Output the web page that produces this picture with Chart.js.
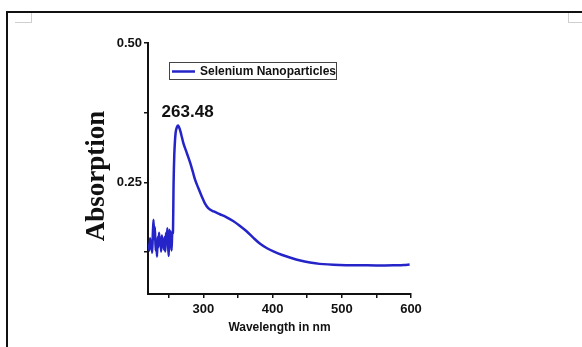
<!DOCTYPE html>
<html>
<head>
<meta charset="utf-8">
<script src="https://cdn.jsdelivr.net/npm/chart.js@4"></script>
<style>
html,body{margin:0;padding:0;background:#fff;width:582px;height:347px;overflow:hidden;}
.f{position:absolute;}
#c{position:absolute;left:0;top:0;z-index:2;}
</style>
</head>
<body>
<div class="f" style="left:6px;top:11px;width:2px;height:336px;background:#111;"></div>
<div class="f" style="left:6px;top:11px;width:576px;height:2px;background:#111;"></div>
<div class="f" style="left:15px;top:22px;width:17px;height:1px;background:#cfcfcf;"></div>
<div class="f" style="left:31px;top:13px;width:1px;height:10px;background:#cfcfcf;"></div>
<div class="f" style="left:568px;top:13px;width:1px;height:10px;background:#cfcfcf;"></div>
<div class="f" style="left:568px;top:22px;width:14px;height:1px;background:#cfcfcf;"></div>
<canvas id="c" width="582" height="347"></canvas>
<script>
// ---- data ----
const wavelength = [221,222,223,224,225,226,227,228,229,230,231,232,233,234,235,236,237,238,239,240,241,242,243,244,245,246,247,248,249,250,251,252,253,254,255,256,257,258,259,260,262,263.48,266,268,271,276,281,285,288,293,298,302,307,315,324,333,343,352,362,372,382,392,402,414,426,440,454,468,497,530,550,575,590,598];
const absorption = [0.140,0.128,0.150,0.132,0.146,0.124,0.158,0.183,0.148,0.170,0.128,0.146,0.117,0.152,0.134,0.160,0.138,0.150,0.126,0.155,0.138,0.148,0.130,0.152,0.126,0.160,0.142,0.168,0.138,0.118,0.165,0.134,0.162,0.128,0.158,0.160,0.250,0.300,0.325,0.340,0.350,0.352,0.345,0.336,0.321,0.303,0.285,0.268,0.255,0.239,0.224,0.213,0.204,0.198,0.193,0.188,0.181,0.173,0.163,0.151,0.140,0.132,0.126,0.120,0.115,0.110,0.1065,0.104,0.102,0.1015,0.1012,0.1015,0.102,0.103];
const xTicks = [250,300,350,400,450,500,550,600];
const xLabels = [300,400,500,600];
const yTicks = [0.125,0.25,0.375,0.5];
const yLabels = [0.25,0.5];
const seriesName = 'Selenium Nanoparticles';
const peakWavelength = 263.48;
const peakValue = 0.352;
const xTitle = 'Wavelength in nm';
const yTitle = 'Absorption';

const SANS = '"Liberation Sans", Arial, sans-serif';
const SERIF = '"Liberation Serif", "Times New Roman", serif';
const LINE = '#2424c8';

const extras = {
  id: 'extras',
  afterDraw(chart) {
    const {ctx, chartArea, scales} = chart;
    ctx.save();
    // legend
    const lx = chartArea.left + 21, ly = chartArea.top + 19;
    ctx.strokeStyle = '#444';
    ctx.lineWidth = 1;
    ctx.strokeRect(lx + 0.5, ly + 0.5, 167, 17);
    ctx.strokeStyle = LINE;
    ctx.lineWidth = 2.5;
    ctx.beginPath();
    ctx.moveTo(lx + 3, ly + 9.5);
    ctx.lineTo(lx + 26, ly + 9.5);
    ctx.stroke();
    ctx.fillStyle = '#111';
    ctx.font = 'bold 12px ' + SANS;
    ctx.textAlign = 'left';
    ctx.textBaseline = 'middle';
    ctx.fillText(chart.data.datasets[0].label, lx + 31, ly + 9.5);
    // peak annotation
    const px = scales.x.getPixelForValue(peakWavelength);
    const py = scales.y.getPixelForValue(peakValue);
    ctx.font = 'bold 17px ' + SANS;
    ctx.textAlign = 'center';
    ctx.fillText(peakWavelength.toFixed(2), px + 9.5, py - 13);
    // y title
    ctx.translate(97, 176);
    ctx.rotate(-Math.PI / 2);
    ctx.font = 'bold 27px ' + SERIF;
    ctx.fillText(yTitle, 0, 0);
    ctx.restore();
  }
};

new Chart(document.getElementById('c'), {
  type: 'line',
  data: {
    datasets: [{
      label: seriesName,
      data: wavelength.map((w, i) => ({x: w, y: absorption[i]})),
      borderColor: LINE,
      borderWidth: 2.5,
      pointRadius: 0,
      fill: false,
      cubicInterpolationMode: 'monotone'
    }]
  },
  options: {
    responsive: false,
    animation: false,
    devicePixelRatio: 1,
    layout: {padding: {top: 43, right: 171, bottom: 0, left: 0}},
    plugins: {legend: {display: false}, tooltip: {enabled: false}},
    scales: {
      x: {
        type: 'linear',
        min: 220, max: 600,
        afterFit: s => { s.height = 53; },
        afterBuildTicks: s => { s.ticks = xTicks.map(v => ({value: v})); },
        ticks: {
          autoSkip: false, maxRotation: 0, padding: 4,
          color: '#111',
          font: {family: SANS, size: 13, weight: 'bold'},
          callback: v => xLabels.includes(v) ? String(v) : ''
        },
        grid: {drawOnChartArea: false, drawTicks: true, tickLength: 4, color: '#111', lineWidth: 1.5},
        border: {display: true, color: '#111', width: 2},
        title: {display: true, text: xTitle, color: '#111', font: {family: SANS, size: 12, weight: 'bold'}, padding: {top: 0, bottom: 12}}
      },
      y: {
        type: 'linear',
        min: 0.05, max: 0.5,
        afterFit: s => { s.width = 148; },
        afterBuildTicks: s => { s.ticks = yTicks.map(v => ({value: v})); },
        ticks: {
          autoSkip: false, padding: 2,
          color: '#111',
          font: {family: SANS, size: 13, weight: 'bold'},
          callback: v => yLabels.includes(v) ? v.toFixed(2) : ''
        },
        grid: {drawOnChartArea: false, drawTicks: true, tickLength: 4, color: '#111', lineWidth: 1.5},
        border: {display: true, color: '#111', width: 2}
      }
    }
  },
  plugins: [extras]
});
</script>
</body>
</html>
